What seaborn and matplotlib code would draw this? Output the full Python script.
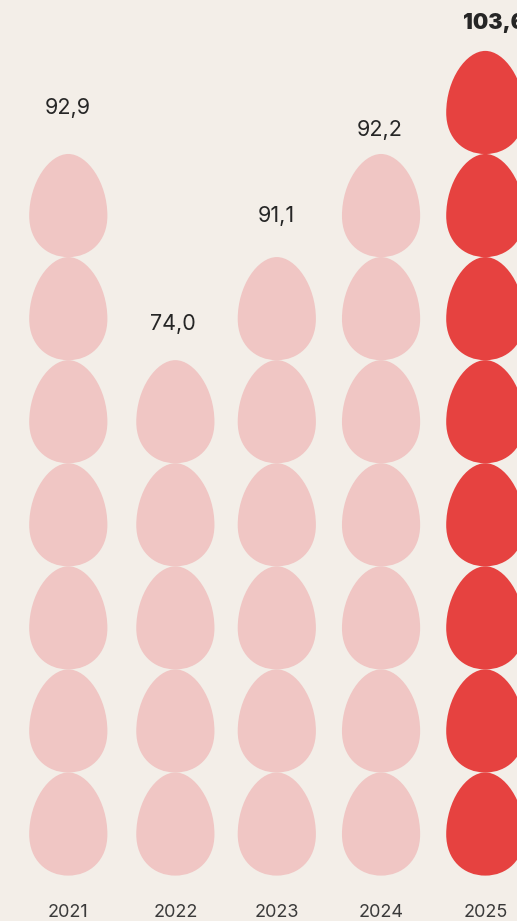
import numpy as np
import pandas as pd
import matplotlib
matplotlib.use("Agg")
import matplotlib.pyplot as plt
from matplotlib.path import Path
import seaborn as sns

years = ["2021", "2022", "2023", "2024", "2025"]
values = ["92,9", "74,0", "91,1", "92,2", "103,6"]
egg_counts = [7, 5, 6, 7, 8]
highlight = ["no", "no", "no", "no", "yes"]

# layout, in axis units
column_slots = [0, 1.027, 2, 3, 4]
label_slots = [0, 1.0, 2, 2.99, 4.085]
label_heights = [6.945, 4.855, 5.895, 6.735, 7.775]

BG = "#F3EEE8"
PALETTE = {"no": "#F0C6C4", "yes": "#E64240"}
TEXT = "#262626"

sns.set_theme(style="white")
plt.rcParams["font.family"] = ["Inter", "DejaVu Sans"]

W, H, DPI = 517, 921, 100
STEP = 103.14
# egg outline, centred, height 1, widest 60% of the way down
verts = [(0, 0.5),
         (0.185, 0.5), (0.379, 0.225), (0.379, -0.10),
         (0.379, -0.35), (0.21, -0.5), (0, -0.5),
         (-0.21, -0.5), (-0.379, -0.35), (-0.379, -0.10),
         (-0.379, 0.225), (-0.185, 0.5), (0, 0.5), (0, 0.5)]
codes = [Path.MOVETO] + [Path.CURVE4] * 12 + [Path.CLOSEPOLY]
egg = Path(verts, codes)

df = pd.DataFrame({
    "col": np.repeat(column_slots, egg_counts),
    "level": np.concatenate([np.arange(n) for n in egg_counts]),
    "hl": np.repeat(highlight, egg_counts),
})

fig = plt.figure(figsize=(W / DPI, H / DPI), dpi=DPI, facecolor=BG)
ax = fig.add_axes([0, 1 - 890 / H, 1, 890 / H], facecolor=BG)

egg_pt = STEP * 72 / DPI
sns.scatterplot(data=df, x="col", y="level", hue="hl", palette=PALETTE,
                marker=egg, s=egg_pt ** 2, linewidth=0, legend=False,
                clip_on=False, ax=ax)

ax.set_xlim(-68.3 / 104.25, (W - 68.3) / 104.25)
ax.set_ylim(-(890 - 824) / STEP, 824.5 / STEP)
ax.set_xlabel("")
ax.set_ylabel("")
ax.set_yticks([])
ax.set_xticks(column_slots)
ax.set_xticklabels(years, fontsize=13, color="#3A3A3A")
ax.tick_params(axis="x", length=0, pad=10)
sns.despine(ax=ax, left=True, bottom=True)

for x, h, v, hl in zip(label_slots, label_heights, values, highlight):
    ax.text(x, h, v, ha="center", va="center", fontsize=15.5, color=TEXT,
            fontweight="black" if hl == "yes" else "normal", clip_on=False)

fig.savefig("out.png", dpi=DPI, facecolor=BG)
